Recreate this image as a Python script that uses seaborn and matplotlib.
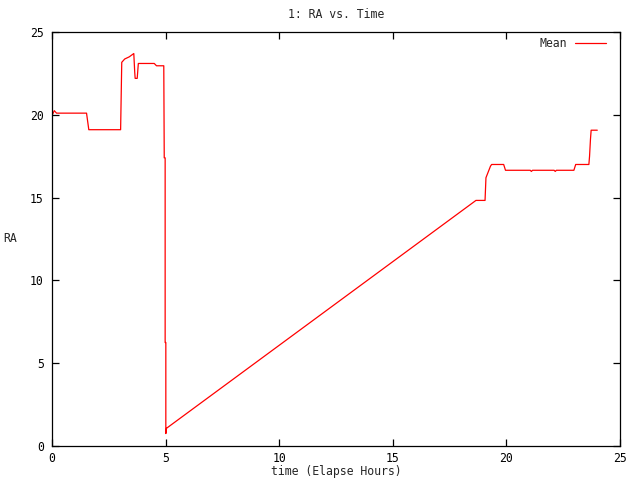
import matplotlib
matplotlib.use("Agg")
import matplotlib.pyplot as plt
import seaborn as sns
import pandas as pd

# values
time_hours = [0.0, 0.1, 0.2, 1.52, 1.58, 1.62, 3.02, 3.07, 3.2, 3.4, 3.6,
              3.64, 3.66, 3.75, 3.8, 4.5, 4.6, 4.92, 4.94, 4.98, 4.98, 5.01,
              5.01, 5.04, 18.66, 19.06, 19.1, 19.3, 19.35, 19.88, 19.96,
              21.05, 21.1, 21.15, 22.1, 22.15, 22.2, 22.97, 23.05, 23.63,
              23.66, 23.7, 23.73, 24.0]
ra_mean = [19.95, 20.25, 20.1, 20.1, 19.5, 19.1, 19.1, 23.17, 23.37, 23.5,
           23.7, 22.6, 22.2, 22.2, 23.1, 23.1, 22.96, 22.96, 17.4, 17.4, 6.25,
           6.25, 0.75, 1.07, 14.83, 14.83, 16.2, 16.9, 17.0, 17.0, 16.65,
           16.65, 16.58, 16.65, 16.65, 16.58, 16.65, 16.65, 17.0, 17.0, 17.5,
           18.52, 19.07, 19.07]

x_ticks = [0, 5, 10, 15, 20, 25]
y_ticks = [0, 5, 10, 15, 20, 25]

df = pd.DataFrame({"time": time_hours, "RA": ra_mean, "series": "Mean"})

sns.set_style("ticks")
plt.rcParams["font.family"] = ["DejaVu Sans Mono"]
fs = 8.3

fig = plt.figure(figsize=(6.4, 4.8), dpi=100)
ax = fig.add_axes([52 / 640, 34 / 480, 568 / 640, 414 / 480])

sns.lineplot(data=df, x="time", y="RA", hue="series", palette=["#ff0000"],
             sort=False, estimator=None, linewidth=0.9, ax=ax)

ax.set_xlim(0, 25)
ax.set_ylim(0, 25)
ax.set_xticks(x_ticks)
ax.set_yticks(y_ticks)
for s in ax.spines.values():
    s.set_visible(True)
    s.set_linewidth(0.9)
    s.set_color("black")
ax.tick_params(direction="in", length=5, width=0.9, top=True, right=True,
               labelsize=fs, colors="black")
ax.tick_params(axis="x", pad=4)
ax.tick_params(axis="y", pad=6)

ax.set_title("1: RA vs. Time", fontsize=fs, pad=10)
ax.set_xlabel("time (Elapse Hours)", fontsize=fs)
ax.xaxis.set_label_coords(0.5, -26 / 414)
ax.xaxis.label.set_va("center")
ax.set_ylabel("RA", fontsize=fs, rotation=0, labelpad=14, va="center")

ax.legend(loc="upper right", frameon=False, fontsize=fs, markerfirst=False,
          handlelength=2.7, handletextpad=0.7, borderaxespad=0.3, title=None,
          bbox_to_anchor=(1 - 6 / 568, 1 + 3 / 414))

fig.savefig("out.png", dpi=100)
